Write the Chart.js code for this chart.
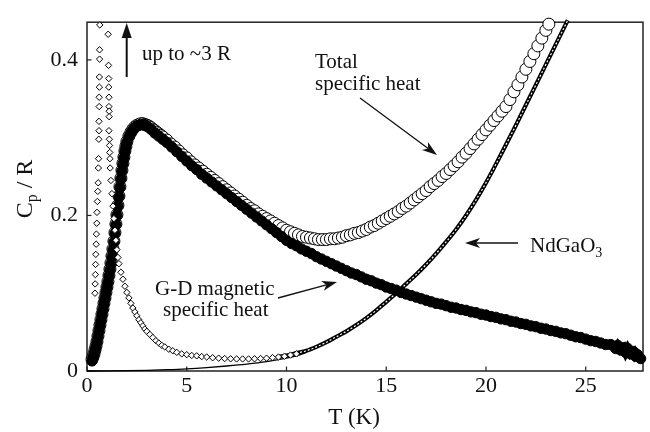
<!DOCTYPE html>
<html><head><meta charset="utf-8">
<script src="https://cdn.jsdelivr.net/npm/chart.js@4.4.1/dist/chart.umd.min.js"></script>
<style>html,body{margin:0;padding:0;background:#fff;}#wrap{width:650px;height:432px;position:relative;}</style>
</head><body><div id="wrap"><canvas id="c" width="650" height="432"></canvas></div>
<script>
const xTicks=[0,5,10,15,20,25];
const yTicks=[0,0.2,0.4];

// Total specific heat (open circles)
const totalT=[0.25,0.3,0.35,0.4,0.45,0.5,0.55,0.6,0.65,0.7,0.75,0.8,0.85,0.9,0.95,1.0,1.05,1.1,1.15,1.2,1.25,1.3,1.35,1.4,1.45,1.5,1.55,1.6,1.65,1.7,1.75,1.8,1.85,1.9,1.95,2.0,2.1,2.2,2.3,2.4,2.5,2.6,2.7,2.8,2.9,3.0,3.1,3.2,3.3,3.4,3.5,3.6,3.7,3.8,4.0,4.2,4.4,4.6,4.8,5.0,5.2,5.4,5.6,5.8,6.0,6.2,6.4,6.6,6.8,7.0,7.2,7.4,7.6,7.8,8.0,8.2,8.4,8.6,8.8,9.0,9.2,9.4,9.6,9.8,10.0,10.2,10.4,10.6,10.8,11.0,11.2,11.4,11.6,11.8,12.0,12.2,12.4,12.6,12.8,13.0,13.2,13.4,13.6,13.8,14.0,14.2,14.4,14.6,14.8,15.0,15.2,15.4,15.6,15.8,16.0,16.2,16.4,16.6,16.8,17.0,17.2,17.4,17.6,17.8,18.0,18.2,18.4,18.6,18.8,19.0,19.2,19.4,19.6,19.8,20.0,20.2,20.4,20.6,20.8,21.0,21.2,21.4,21.6,21.8,22.0,22.2,22.4,22.6,22.8,23.0,23.15];
const totalC=[0.015,0.018,0.022,0.027,0.032,0.038,0.045,0.052,0.059,0.066,0.073,0.080,0.087,0.094,0.101,0.108,0.115,0.123,0.131,0.139,0.148,0.157,0.167,0.178,0.189,0.201,0.213,0.225,0.237,0.248,0.258,0.267,0.275,0.283,0.289,0.295,0.302,0.307,0.311,0.314,0.316,0.317,0.318,0.318,0.317,0.316,0.315,0.313,0.311,0.309,0.307,0.305,0.303,0.301,0.297,0.292,0.288,0.283,0.278,0.274,0.269,0.265,0.261,0.257,0.253,0.249,0.245,0.241,0.237,0.233,0.229,0.225,0.221,0.217,0.213,0.209,0.206,0.202,0.199,0.196,0.193,0.190,0.187,0.184,0.181,0.179,0.177,0.175,0.173,0.172,0.171,0.170,0.169,0.169,0.169,0.170,0.170,0.171,0.172,0.174,0.175,0.177,0.178,0.180,0.182,0.185,0.187,0.190,0.193,0.196,0.199,0.202,0.205,0.209,0.212,0.216,0.220,0.224,0.228,0.232,0.237,0.241,0.245,0.250,0.254,0.259,0.264,0.269,0.275,0.280,0.286,0.292,0.298,0.304,0.310,0.316,0.322,0.328,0.334,0.340,0.349,0.359,0.368,0.378,0.388,0.398,0.408,0.418,0.428,0.438,0.446];

// G-D magnetic specific heat (filled circles)
const gdT=[0.25,0.3,0.35,0.4,0.45,0.5,0.55,0.6,0.65,0.7,0.75,0.8,0.85,0.9,0.95,1.0,1.05,1.1,1.15,1.2,1.25,1.3,1.35,1.4,1.45,1.5,1.55,1.6,1.65,1.7,1.75,1.8,1.85,1.9,1.95,2.0,2.1,2.2,2.3,2.4,2.5,2.6,2.7,2.8,2.9,3.0,3.2,3.4,3.6,3.8,4.0,4.25,4.5,4.75,5.0,5.25,5.5,5.75,6.0,6.25,6.5,6.75,7.0,7.25,7.5,7.75,8.0,8.25,8.5,8.75,9.0,9.25,9.5,9.75,10.0,10.25,10.5,10.75,11.0,11.25,11.5,11.75,12.0,12.25,12.5,12.75,13.0,13.25,13.5,13.75,14.0,14.25,14.5,14.75,15.0,15.25,15.5,15.75,16.0,16.25,16.5,16.75,17.0,17.25,17.5,17.75,18.0,18.25,18.5,18.75,19.0,19.25,19.5,19.75,20.0,20.25,20.5,20.75,21.0,21.25,21.5,21.75,22.0,22.25,22.5,22.75,23.0,23.25,23.5,23.75,24.0,24.25,24.5,24.75,25.0,25.25,25.5,25.75,26.0,26.25,26.5,26.6,26.75,26.9,27.0,27.1,27.25,27.4,27.5,27.6,27.75];
const gdC=[0.013,0.017,0.021,0.026,0.031,0.037,0.044,0.051,0.058,0.065,0.072,0.079,0.086,0.093,0.100,0.107,0.114,0.122,0.130,0.138,0.147,0.156,0.166,0.177,0.188,0.200,0.212,0.224,0.236,0.247,0.257,0.266,0.274,0.282,0.288,0.294,0.301,0.306,0.310,0.313,0.315,0.316,0.317,0.317,0.316,0.315,0.311,0.306,0.302,0.298,0.294,0.288,0.282,0.276,0.270,0.264,0.259,0.253,0.248,0.243,0.238,0.233,0.228,0.223,0.218,0.213,0.208,0.203,0.198,0.193,0.188,0.183,0.178,0.173,0.168,0.164,0.161,0.157,0.154,0.151,0.147,0.144,0.141,0.138,0.135,0.132,0.129,0.126,0.124,0.121,0.118,0.116,0.113,0.111,0.108,0.106,0.104,0.101,0.099,0.097,0.095,0.093,0.091,0.089,0.087,0.086,0.084,0.082,0.081,0.079,0.078,0.076,0.075,0.073,0.072,0.070,0.069,0.067,0.066,0.064,0.063,0.061,0.060,0.058,0.057,0.055,0.054,0.052,0.051,0.049,0.048,0.046,0.044,0.043,0.041,0.039,0.038,0.036,0.034,0.034,0.029,0.033,0.027,0.030,0.024,0.029,0.022,0.025,0.019,0.021,0.016];

// NdGaO3 (open diamonds, low-temperature part)
const ndLowT=[0.40,0.41,0.42,0.43,0.44,0.46,0.47,0.49,0.50,0.52,0.54,0.56,0.57,0.58,0.59,0.60,0.60,0.61,0.61,0.62,0.62,0.63,0.63,0.64,1.06,1.08,1.09,1.09,1.10,1.10,1.11,1.11,1.10,1.12,1.13,1.14,1.15,1.16,1.20,1.25,1.3,1.35,1.4,1.45,1.5,1.55,1.6,1.7,1.8,1.9,2.0,2.1,2.2,2.3,2.4,2.5,2.6,2.7,2.8,2.9,3.0,3.15,3.3,3.45,3.6,3.75,3.9,4.1,4.3,4.5,4.75,5.0,5.25,5.5,5.75,6.0,6.3,6.6,6.9,7.2,7.5,7.8,8.1,8.4,8.7,9.0,9.3,9.6,9.9,10.2,10.5];
const ndLowC=[0.100,0.112,0.124,0.137,0.150,0.163,0.176,0.190,0.204,0.218,0.231,0.242,0.261,0.273,0.298,0.309,0.321,0.340,0.352,0.365,0.378,0.401,0.413,0.445,0.433,0.393,0.376,0.365,0.352,0.340,0.334,0.327,0.309,0.298,0.290,0.281,0.273,0.261,0.245,0.228,0.212,0.196,0.181,0.168,0.156,0.146,0.138,0.127,0.118,0.109,0.101,0.094,0.087,0.081,0.076,0.071,0.066,0.062,0.058,0.054,0.051,0.047,0.043,0.039,0.036,0.033,0.031,0.028,0.026,0.024,0.022,0.021,0.020,0.0195,0.0185,0.018,0.017,0.0165,0.016,0.0157,0.0155,0.0155,0.0155,0.0157,0.016,0.0165,0.0172,0.018,0.019,0.0205,0.022];

// NdGaO3 (higher-temperature part, dense band)
const ndHighT=[9.5,10,10.5,11,11.5,12,12.5,13,13.5,14,14.5,15,15.5,16,16.5,17,17.5,18,18.5,19,19.5,20,20.5,21,21.5,22,22.5,23,23.5,24,24.1];
const ndHighC=[0.018,0.020,0.023,0.026,0.031,0.037,0.044,0.051,0.059,0.068,0.078,0.089,0.100,0.112,0.124,0.137,0.151,0.166,0.182,0.200,0.220,0.242,0.266,0.291,0.316,0.342,0.368,0.394,0.420,0.446,0.451];

// thin low-temperature line
const latT=[0,1,2,3,4,5,6,7,8,9,10,10.5,11];
const latC=[0,0.0001,0.0004,0.0009,0.0017,0.0028,0.0044,0.0064,0.0088,0.012,0.0165,0.0195,0.024];

const pts=(xs,ys)=>xs.map((x,i)=>({x:x,y:ys[i]}));
const FONT='"Liberation Serif","Times New Roman",serif';

function arrow(ctx,x1,y1,x2,y2,L,W,N){
  const a=Math.atan2(y2-y1,x2-x1),c=Math.cos(a),s=Math.sin(a);
  ctx.beginPath();ctx.moveTo(x1,y1);ctx.lineTo(x2-N*c,y2-N*s);ctx.stroke();
  const bx=x2-L*c,by=y2-L*s;
  ctx.beginPath();ctx.moveTo(x2,y2);
  ctx.lineTo(bx-W*s,by+W*c);
  ctx.lineTo(x2-N*c,y2-N*s);
  ctx.lineTo(bx+W*s,by-W*c);
  ctx.closePath();ctx.fill();
}

const deco={
  id:'deco',
  beforeDatasetsDraw(chart){
    const ctx=chart.ctx,a=chart.chartArea,xs=chart.scales.x,ys=chart.scales.y;
    ctx.save();
    ctx.strokeStyle='#222';ctx.lineWidth=1.5;
    ctx.strokeRect(a.left,a.top,a.right-a.left,a.bottom-a.top);
    ctx.lineWidth=1.2;
    xTicks.forEach(v=>{const x=xs.getPixelForValue(v);ctx.beginPath();ctx.moveTo(x,a.bottom);ctx.lineTo(x,a.bottom-4.5);ctx.stroke();});
    yTicks.forEach(v=>{const y=ys.getPixelForValue(v);ctx.beginPath();ctx.moveTo(a.left,y);ctx.lineTo(a.left+4.5,y);ctx.stroke();});
    ctx.restore();
  },
  afterDraw(chart){
    const ctx=chart.ctx;
    ctx.save();
    ctx.fillStyle='#111';ctx.strokeStyle='#111';
    ctx.textBaseline='alphabetic';ctx.textAlign='left';
    ctx.font='21px '+FONT;
    ctx.fillText('up to ~3 R',142,60);
    ctx.fillText('Total',315,68);
    ctx.fillText('specific heat',315,90);
    ctx.fillText('G-D magnetic',155,295);
    ctx.fillText('specific heat',163,316);
    ctx.fillText('NdGaO',530,252);
    const w=ctx.measureText('NdGaO').width;
    ctx.font='14px '+FONT;
    ctx.fillText('3',530+w,257);
    ctx.lineWidth=2;
    arrow(ctx,126.7,77,126.7,23,15,5,15);
    ctx.lineWidth=1.3;
    arrow(ctx,360,98,437,155,15,5,11);
    arrow(ctx,278,298,337,282,15,5,11);
    arrow(ctx,518,243,465,243,15,5,11);
    ctx.font='23px '+FONT;ctx.textAlign='center';
    ctx.fillText('T (K)',354,424);
    ctx.translate(31.5,189);ctx.rotate(-Math.PI/2);
    ctx.font='24px '+FONT;
    const wC=ctx.measureText('C').width;
    ctx.font='16px '+FONT;
    const wp=ctx.measureText('p').width;
    ctx.font='24px '+FONT;
    const wR=ctx.measureText(' / R').width;
    const tot=wC+wp+wR;
    ctx.textAlign='left';
    let x0=-tot/2;
    ctx.fillText('C',x0,0);
    ctx.font='16px '+FONT;ctx.fillText('p',x0+wC,5);
    ctx.font='24px '+FONT;ctx.fillText(' / R',x0+wC+wp,0);
    ctx.restore();
  }
};

new Chart(document.getElementById('c'),{
  type:'scatter',
  data:{datasets:[
    {label:'NdGaO3 diamonds',data:pts(ndLowT,ndLowC),showLine:false,pointStyle:'rectRot',pointRadius:3.2,pointBackgroundColor:'#fff',pointBorderColor:'#000',pointBorderWidth:1,order:1,clip:false},
    {label:'G-D magnetic specific heat',data:pts(gdT,gdC),showLine:true,borderColor:'#000',borderWidth:8,pointRadius:5.2,pointBackgroundColor:'#000',pointBorderColor:'#000',pointBorderWidth:1,order:2,clip:false},
    {label:'Total specific heat',data:pts(totalT,totalC),showLine:false,pointRadius:6,pointBackgroundColor:'#fff',pointBorderColor:'#000',pointBorderWidth:1,order:3,clip:false},
    {label:'NdGaO3 inner',data:pts(ndHighT,ndHighC),showLine:true,borderColor:'#fff',borderWidth:1.2,borderDash:[2,2],cubicInterpolationMode:'monotone',pointRadius:0,order:4,clip:false},
    {label:'NdGaO3',data:pts(ndHighT,ndHighC),showLine:true,borderColor:'#000',borderWidth:4.2,cubicInterpolationMode:'monotone',pointRadius:0,order:5,clip:false},
    {label:'lattice',data:pts(latT,latC),showLine:true,borderColor:'#000',borderWidth:1.3,cubicInterpolationMode:'monotone',pointRadius:0,order:6,clip:false}
  ]},
  options:{
    responsive:false,animation:false,devicePixelRatio:1,
    layout:{padding:{top:14,right:4,left:0,bottom:0}},
    plugins:{legend:{display:false},tooltip:{enabled:false}},
    scales:{
      x:{type:'linear',min:0,max:27.87,
        afterFit:s=>{s.height=61;},
        afterBuildTicks:s=>{s.ticks=xTicks.map(v=>({value:v}));},
        grid:{display:false,drawTicks:false},border:{display:false},
        ticks:{padding:2,color:'#111',font:{family:FONT,size:22},callback:v=>String(v),maxRotation:0,autoSkip:false}},
      y:{type:'linear',min:0,max:0.4485,
        afterFit:s=>{s.width=87;},
        afterBuildTicks:s=>{s.ticks=yTicks.map(v=>({value:v}));},
        grid:{display:false,drawTicks:false},border:{display:false},
        ticks:{padding:9,color:'#111',font:{family:FONT,size:22},callback:v=>(v===0?'0':v.toFixed(1)),autoSkip:false}}
    }
  },
  plugins:[deco]
});
</script>
</body></html>
